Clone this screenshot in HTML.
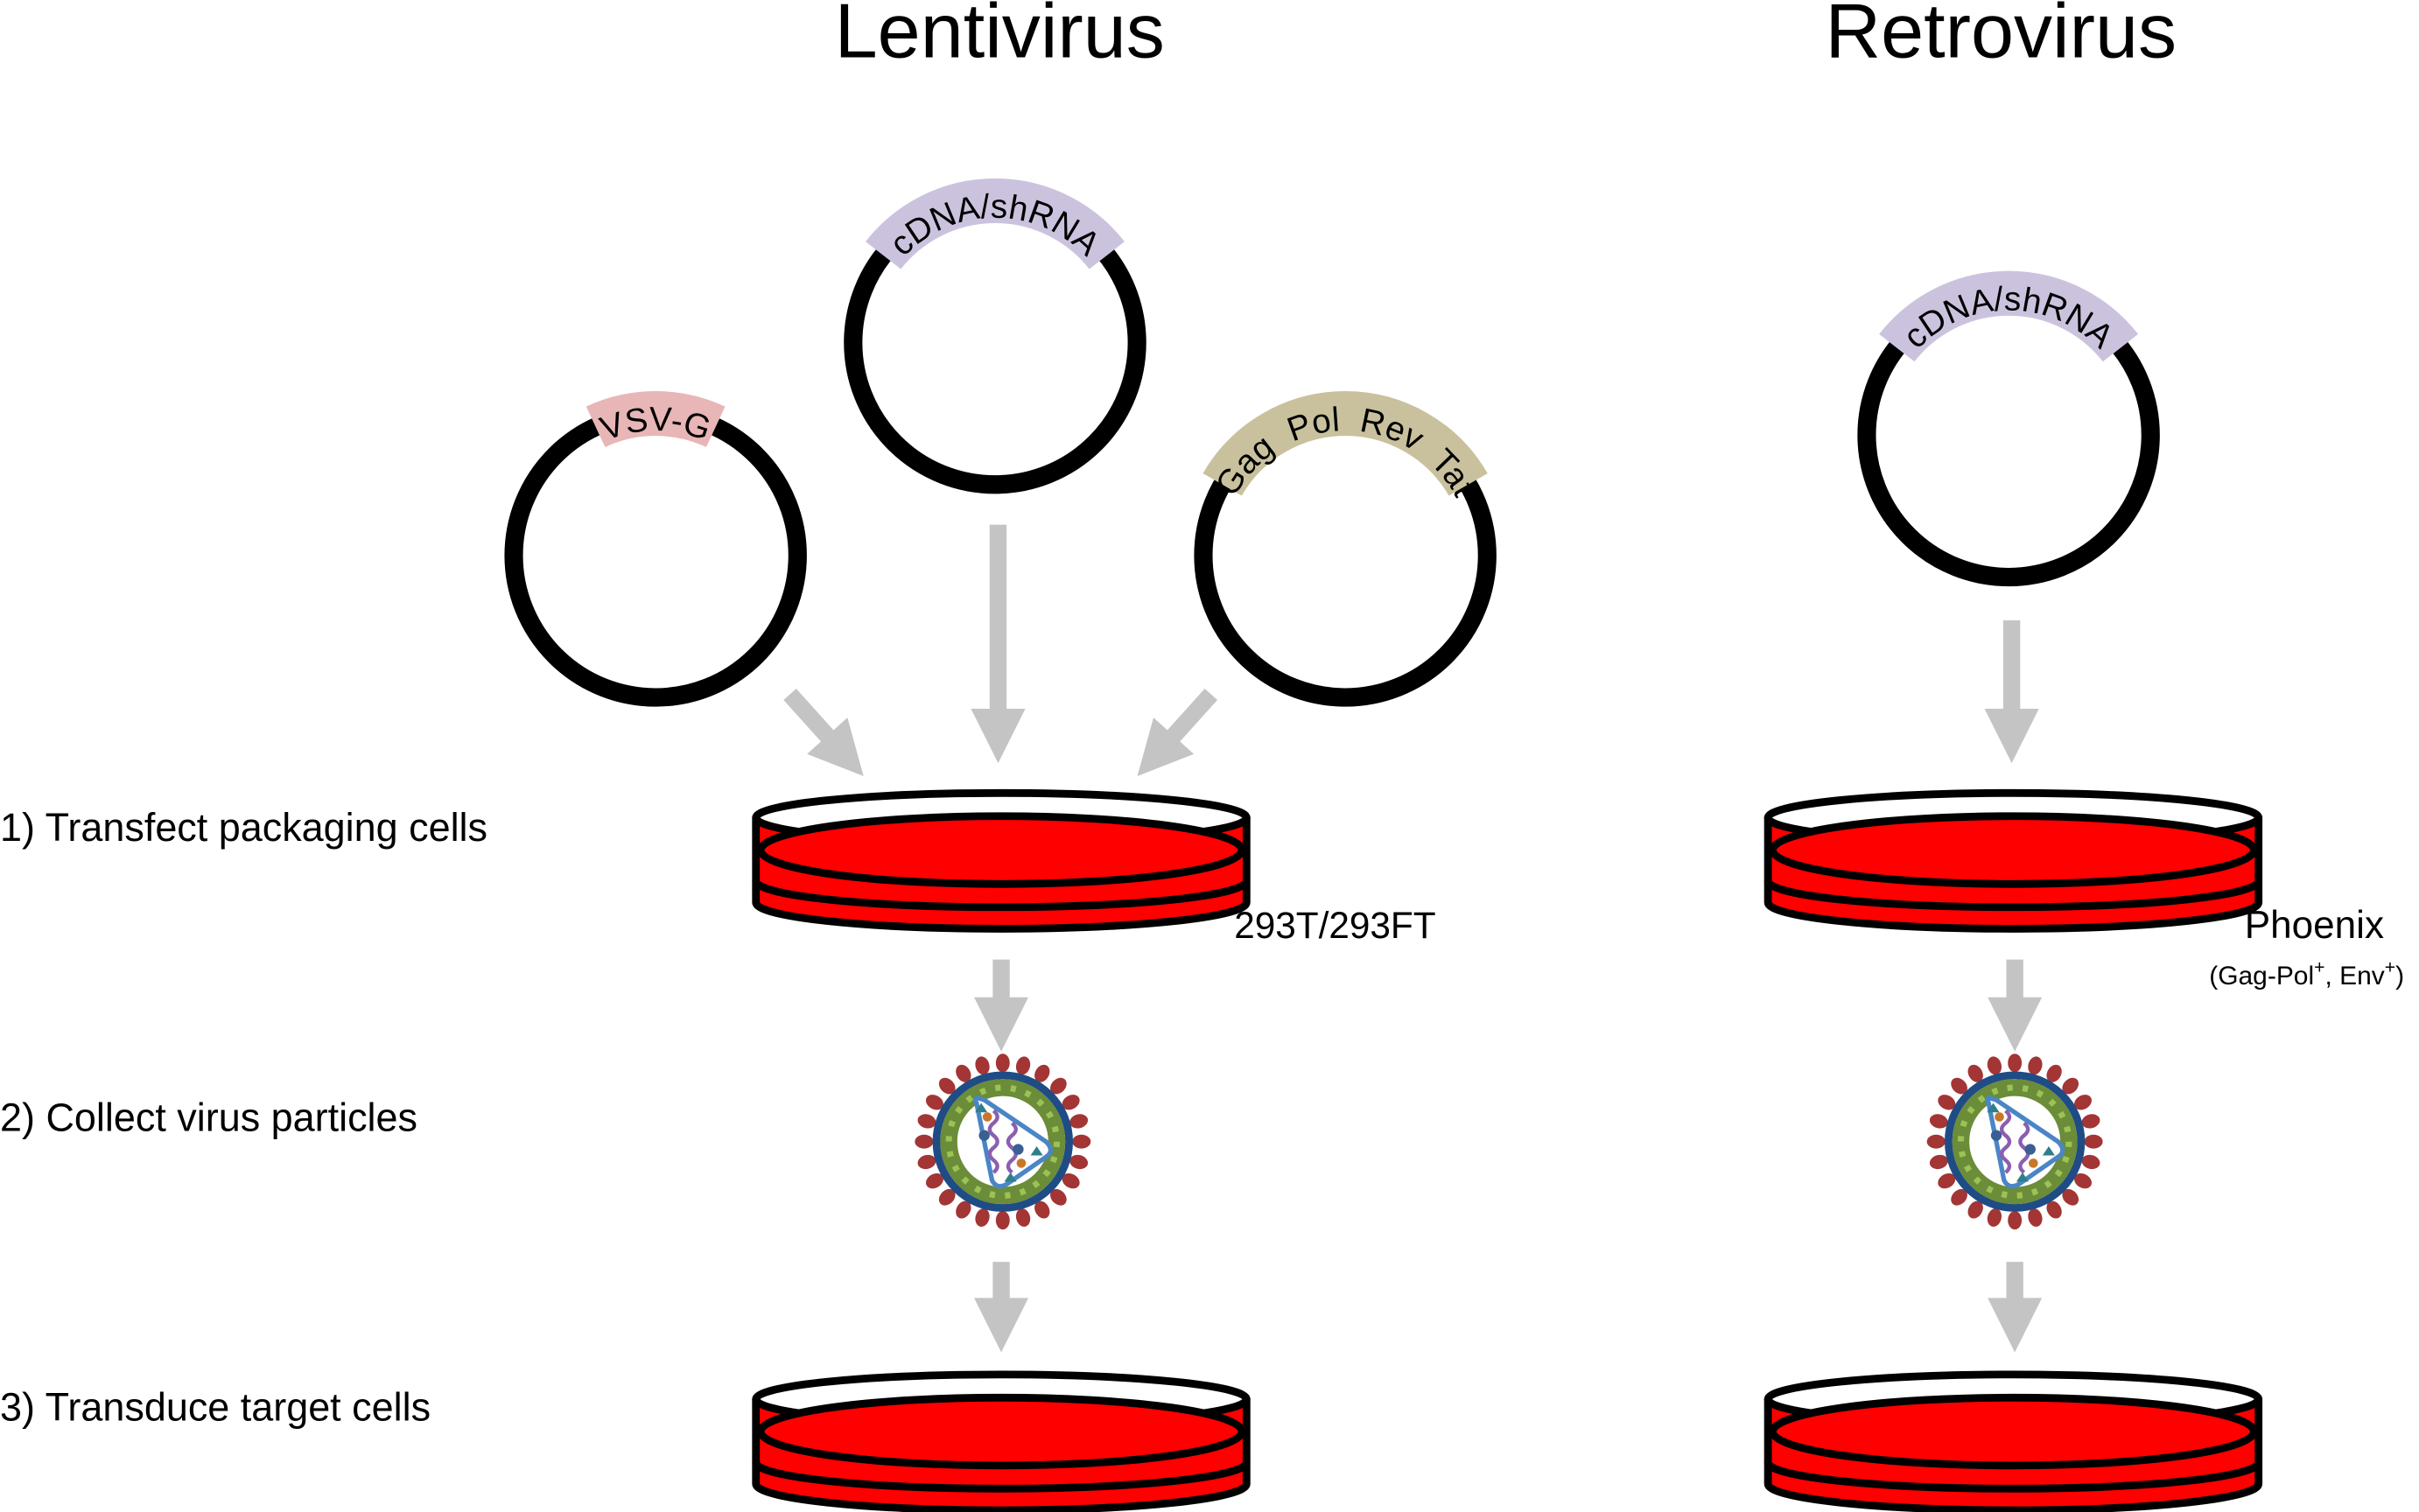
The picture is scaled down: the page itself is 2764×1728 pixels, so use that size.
<!DOCTYPE html>
<html><head><meta charset="utf-8"><style>
html,body{margin:0;padding:0;background:#fff;}
svg{display:block;}
text{font-family:"Liberation Sans","DejaVu Sans",sans-serif;fill:#000;}
</style></head><body>
<svg width="2764" height="1728" viewBox="0 0 1568 980" xmlns="http://www.w3.org/2000/svg">
<defs>
<marker id="ah" viewBox="0 0 10 10" refX="5" refY="5" markerWidth="3.4" markerHeight="3.2" orient="auto" markerUnits="strokeWidth">
<path d="M0,0 L10,5 L0,10 Z" fill="#c4c4c4"/></marker>
<g id="dish">
<path d="M-159,0 L-159,55 A159,17 0 0 0 159,55 L159,0 Z" fill="#ff0000" stroke="#000" stroke-width="5" stroke-linejoin="round"/>
<path d="M-159,41 A159,17 0 0 0 159,41" fill="none" stroke="#000" stroke-width="5"/>
<ellipse cx="0" cy="0" rx="159" ry="16" fill="#fff" stroke="#000" stroke-width="5"/>
<ellipse cx="0" cy="21" rx="156" ry="22" fill="#ff0000" stroke="#000" stroke-width="5"/>
</g>
<g id="virus">
<g fill="#a33535">
<ellipse cx="0" cy="-51" rx="4.5" ry="6"/><ellipse cx="0" cy="-51" rx="4.5" ry="6" transform="rotate(15)"/><ellipse cx="0" cy="-51" rx="4.5" ry="6" transform="rotate(30)"/><ellipse cx="0" cy="-51" rx="4.5" ry="6" transform="rotate(45)"/><ellipse cx="0" cy="-51" rx="4.5" ry="6" transform="rotate(60)"/><ellipse cx="0" cy="-51" rx="4.5" ry="6" transform="rotate(75)"/><ellipse cx="0" cy="-51" rx="4.5" ry="6" transform="rotate(90)"/><ellipse cx="0" cy="-51" rx="4.5" ry="6" transform="rotate(105)"/><ellipse cx="0" cy="-51" rx="4.5" ry="6" transform="rotate(120)"/><ellipse cx="0" cy="-51" rx="4.5" ry="6" transform="rotate(135)"/><ellipse cx="0" cy="-51" rx="4.5" ry="6" transform="rotate(150)"/><ellipse cx="0" cy="-51" rx="4.5" ry="6" transform="rotate(165)"/><ellipse cx="0" cy="-51" rx="4.5" ry="6" transform="rotate(180)"/><ellipse cx="0" cy="-51" rx="4.5" ry="6" transform="rotate(195)"/><ellipse cx="0" cy="-51" rx="4.5" ry="6" transform="rotate(210)"/><ellipse cx="0" cy="-51" rx="4.5" ry="6" transform="rotate(225)"/><ellipse cx="0" cy="-51" rx="4.5" ry="6" transform="rotate(240)"/><ellipse cx="0" cy="-51" rx="4.5" ry="6" transform="rotate(255)"/><ellipse cx="0" cy="-51" rx="4.5" ry="6" transform="rotate(270)"/><ellipse cx="0" cy="-51" rx="4.5" ry="6" transform="rotate(285)"/><ellipse cx="0" cy="-51" rx="4.5" ry="6" transform="rotate(300)"/><ellipse cx="0" cy="-51" rx="4.5" ry="6" transform="rotate(315)"/><ellipse cx="0" cy="-51" rx="4.5" ry="6" transform="rotate(330)"/><ellipse cx="0" cy="-51" rx="4.5" ry="6" transform="rotate(345)"/>
</g>
<circle r="43" fill="#fff" stroke="#1f4c85" stroke-width="5"/>
<circle r="35" fill="none" stroke="#6b8c38" stroke-width="11"/>
<circle r="35" fill="none" stroke="#9cc255" stroke-width="4" stroke-dasharray="3.5 6.5"/>
<path d="M-17,-25 Q-20,-30 -12,-27 L28,0 Q34,6 28,10 L2,28 Q-4,31 -7,25 Z" fill="#fff" stroke="#4a86c6" stroke-width="3"/>
<path d="M-6,-20 q5,4 0,8 q-5,4 0,8 q5,4 0,8 q-5,4 0,8 q5,4 0,8 M6,-12 q5,4 0,8 q-5,4 0,8 q5,4 0,8 q-5,4 0,8" fill="none" stroke="#8a5fb0" stroke-width="2.5"/>
<circle cx="-10" cy="-16" r="3" fill="#c8762a"/><circle cx="12" cy="14" r="3" fill="#c8762a"/>
<circle cx="-12" cy="-4" r="3.5" fill="#3a5f92"/><circle cx="10" cy="5" r="3.5" fill="#3a5f92"/>
<path d="M-14,-25 l4,6 h-8 Z M22,3 l4,6 h-8 Z M5,20 l4,6 h-8 Z" fill="#2e7f8a"/>
</g>
<path id="t1" d="M344,360 A81,81 0 0 1 506,360"/>
<path id="t2" d="M564,222 A81,81 0 0 1 726,222"/>
<path id="t3" d="M791,360 A81,81 0 0 1 953,360"/>
<path id="t4" d="M1221,282 A81,81 0 0 1 1383,282"/>
</defs>

<text x="648" y="37" font-size="50" text-anchor="middle">Lentivirus</text>
<text x="1297" y="37" font-size="50" text-anchor="middle">Retrovirus</text>

<text x="0" y="545" font-size="25.5">1) Transfect packaging cells</text>
<text x="0" y="733" font-size="25.5">2) Collect virus particles</text>
<text x="0" y="921" font-size="25.5">3) Transduce target cells</text>

<g fill="none" stroke="#000" stroke-width="12">
<circle cx="425" cy="360" r="92"/>
<circle cx="645" cy="222" r="92"/>
<circle cx="872" cy="360" r="92"/>
<circle cx="1302" cy="282" r="92"/>
</g>
<g fill="none" stroke-width="29">
<!-- VSV-G ±25deg -->
<path d="M386.1,276.6 A92,92 0 0 1 463.9,276.6" stroke="#e8b6b6"/>
<!-- cDNA ±52deg -->
<path d="M572.5,165.4 A92,92 0 0 1 717.5,165.4" stroke="#cbc3de"/>
<!-- Gag ±60deg -->
<path d="M792.3,314 A92,92 0 0 1 951.7,314" stroke="#c9c19d"/>
<path d="M1229.5,225.4 A92,92 0 0 1 1374.5,225.4" stroke="#cbc3de"/>
</g>
<text font-size="22"><textPath href="#t1" startOffset="50%" text-anchor="middle">VSV-G</textPath></text>
<text font-size="22"><textPath href="#t2" startOffset="50%" text-anchor="middle">cDNA/shRNA</textPath></text>
<text font-size="22" word-spacing="6"><textPath href="#t3" startOffset="50%" text-anchor="middle">Gag Pol Rev Tat</textPath></text>
<text font-size="22"><textPath href="#t4" startOffset="50%" text-anchor="middle">cDNA/shRNA</textPath></text>

<g stroke="#c4c4c4" stroke-width="11" marker-end="url(#ah)">
<line x1="647" y1="340" x2="647" y2="477"/>
<line x1="512" y1="450" x2="548" y2="490"/>
<line x1="785" y1="450" x2="749" y2="490"/>
<line x1="649" y1="622" x2="649" y2="664"/>
<line x1="649" y1="818" x2="649" y2="859"/>
<line x1="1304" y1="402" x2="1304" y2="477"/>
<line x1="1306" y1="622" x2="1306" y2="664"/>
<line x1="1306" y1="818" x2="1306" y2="859"/>
</g>

<use href="#dish" x="649" y="530"/>
<use href="#dish" x="1305" y="530"/>
<use href="#dish" x="649" y="907"/>
<use href="#dish" x="1305" y="907"/>

<text x="800" y="608" font-size="24">293T/293FT</text>
<text x="1455" y="608" font-size="25">Phoenix</text>
<text x="1432" y="638" font-size="17">(Gag-Pol<tspan dy="-7" font-size="12">+</tspan><tspan dy="7">, Env</tspan><tspan dy="-7" font-size="12">+</tspan><tspan dy="7">)</tspan></text>

<use href="#virus" x="650" y="740"/>
<use href="#virus" x="1306" y="740"/>
</svg>
</body></html>
